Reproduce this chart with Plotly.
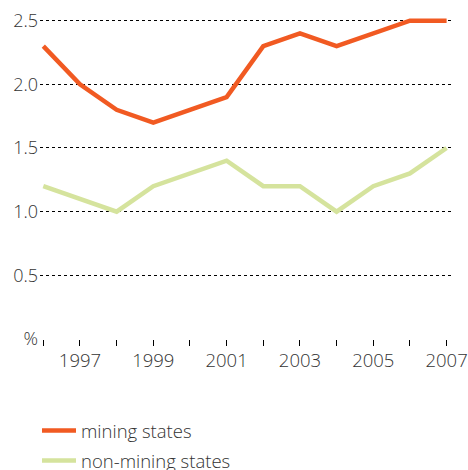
import plotly.graph_objects as go

years = list(range(1996, 2008))
mining = [2.3, 2.0, 1.8, 1.7, 1.8, 1.9, 2.3, 2.4, 2.3, 2.4, 2.5, 2.5]
non_mining = [1.2, 1.1, 1.0, 1.2, 1.3, 1.4, 1.2, 1.2, 1.0, 1.2, 1.3, 1.5]
y_ticks = [0, 0.5, 1.0, 1.5, 2.0, 2.5]
y_tick_text = ["%", "0.5", "1.0", "1.5", "2.0", "2.5"]
x_tick_text = [str(y) if y % 2 == 1 else "" for y in years]

FONT = "Open Sans"
TXT = "#333333"

fig = go.Figure()
fig.add_trace(go.Scatter(x=years, y=mining, mode="lines", name="mining states",
                         legendgroup="a",
                         line=dict(color="#F15A22", width=4.5)))
fig.add_trace(go.Scatter(x=years, y=non_mining, mode="lines", name="non-mining states",
                         legendgroup="b",
                         line=dict(color="#D5E39D", width=4.5)))

fig.update_layout(
    width=468, height=478,
    margin=dict(l=40, r=17, t=13, b=139, autoexpand=False),
    paper_bgcolor="white", plot_bgcolor="white",
    font=dict(family=FONT, size=18, color=TXT, weight=300),
    showlegend=True,
    legend=dict(orientation="v", x=-0.0073, xanchor="left", y=-0.224, yanchor="top",
                itemwidth=34, font=dict(family=FONT, size=18.5, color=TXT, weight=300),
                tracegroupgap=3, traceorder="grouped", bgcolor="rgba(0,0,0,0)"),
    xaxis=dict(range=[1995.91, 2007.12], tickvals=years, ticktext=x_tick_text,
               ticks="outside", ticklen=6, tickcolor="black", tickwidth=1,
               tickfont=dict(size=18.5), ticklabeloverflow="allow",
               showgrid=False, zeroline=False, showline=False, automargin=False,
               ticklabelstandoff=-1, fixedrange=True),
    yaxis=dict(range=[0, 2.56], tickvals=y_ticks, ticktext=y_tick_text,
               showgrid=True, gridcolor="black", gridwidth=1, griddash="dot",
               zeroline=False, showline=False, ticks="", automargin=False,
               ticklabeloverflow="allow",
               ticklabelstandoff=1, fixedrange=True),
)
fig.write_html(
    "out.html",
    config={"displayModeBar": False, "staticPlot": True},
    post_script="document.body.style.margin='0';document.body.style.overflow='hidden';",
)
